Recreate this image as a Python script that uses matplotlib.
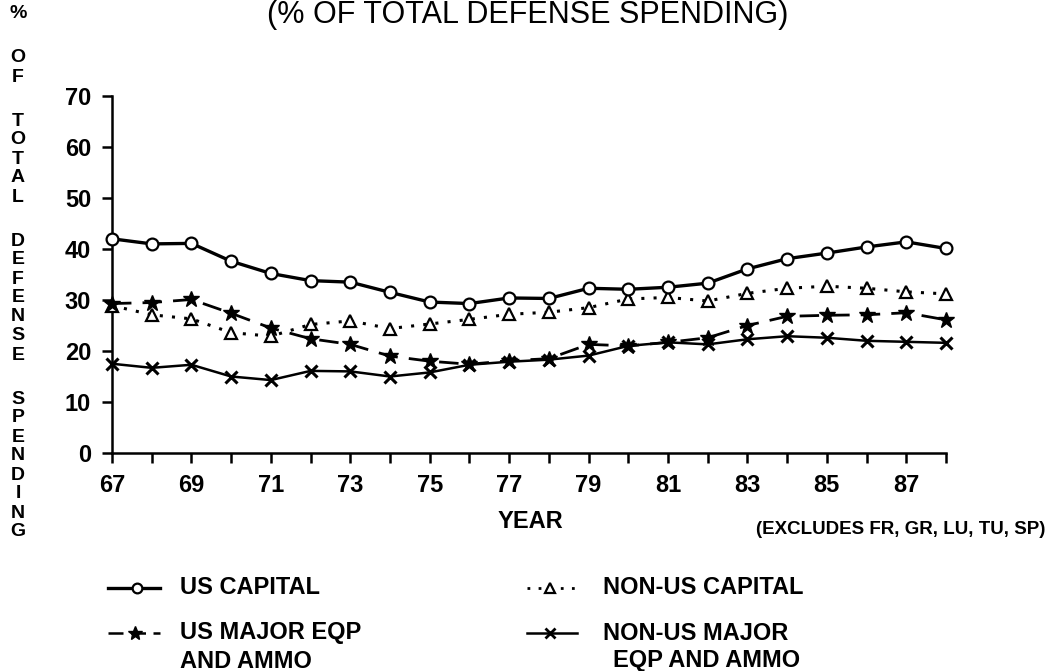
import matplotlib
matplotlib.use("Agg")
import matplotlib.pyplot as plt
from matplotlib.lines import Line2D

plt.rcParams['font.family'] = ['Liberation Sans', 'DejaVu Sans']
plt.rcParams['font.weight'] = 'bold'

# data (% of total defense spending)
years = list(range(67, 89))
us_capital = [42.0, 41.0, 41.1, 37.6, 35.2, 33.8, 33.5, 31.5, 29.6, 29.3, 30.4,
              30.3, 32.3, 32.1, 32.5, 33.3, 36.1, 38.1, 39.2, 40.4, 41.4, 40.1]
non_us_capital = [28.9, 27.1, 26.3, 23.6, 22.9, 25.2, 25.9, 24.4, 25.3, 26.2, 27.2,
                  27.6, 28.5, 30.2, 30.5, 29.8, 31.3, 32.3, 32.7, 32.3, 31.6, 31.2]
us_major = [29.3, 29.5, 30.1, 27.4, 24.5, 22.4, 21.3, 19.0, 18.0, 17.4, 18.1,
            18.5, 21.3, 21.0, 21.7, 22.6, 25.0, 26.8, 27.0, 27.1, 27.5, 26.1]
non_us_major = [17.5, 16.7, 17.3, 15.0, 14.3, 16.1, 16.0, 15.0, 15.8, 17.3, 17.9,
                18.3, 19.1, 21.0, 21.7, 21.3, 22.3, 22.9, 22.6, 22.0, 21.8, 21.6]
xtick_labels = [str(y) if y % 2 == 1 else '' for y in years]
yticks = [0, 10, 20, 30, 40, 50, 60, 70]

W, H = 1049, 671
fig = plt.figure(figsize=(W / 100, H / 100), dpi=100)
ax = fig.add_axes([112 / W, 1 - 453 / H, (946 - 112) / W, (453 - 96) / H])

ax.plot(years, us_capital, color='black', lw=2.4, marker='o', ms=8.5,
        mfc='white', mec='black', mew=1.6, clip_on=False, zorder=4)
ax.plot(years, non_us_capital, color='black', lw=2.2, ls=(0, (1, 3)), marker='^',
        ms=8.5, mfc='white', mec='black', mew=1.6, clip_on=False, zorder=3)
ax.plot(years, us_major, color='black', lw=2.0, ls=(0, (7, 4)), marker='*',
        ms=12, mfc='black', mec='black', clip_on=False, zorder=3)
ax.plot(years, non_us_major, color='black', lw=1.8, marker='x', ms=9, mew=2.2,
        clip_on=False, zorder=3)

ax.set_xlim(67, 88)
ax.set_ylim(0, 70)
ax.set_xticks(years)
ax.set_xticklabels(xtick_labels)
ax.set_yticks(yticks)
for s in ['top', 'right']:
    ax.spines[s].set_visible(False)
for s in ['left', 'bottom']:
    ax.spines[s].set_linewidth(1.8)
ax.tick_params(direction='out', length=7, width=1.8, labelsize=17, pad=8)

# title sits right at the top edge
fig.text(528 / W, 1 - 23 / H, '(% OF TOTAL DEFENSE SPENDING)', ha='center',
         va='baseline', fontsize=22, fontweight='normal')

# stacked vertical y label
words = ['%', 'OF', 'TOTAL', 'DEFENSE', 'SPENDING']
y_px = 14
for w in words:
    for ch in w:
        fig.text(18 / W, 1 - y_px / H, ch, ha='center', va='center', fontsize=14)
        y_px += 19
    y_px += 25

fig.text(530 / W, 1 - 521 / H, 'YEAR', ha='center', va='center', fontsize=17)
fig.text(1045 / W, 1 - 530 / H, '(EXCLUDES FR, GR, LU, TU, SP)', ha='right',
         va='center', fontsize=13.5)

# legend
def handle(x0, x1, y, **kw):
    yf = 1 - y / H
    fig.add_artist(Line2D([x0 / W, x1 / W], [yf, yf], color='black', **kw))

def marker(x, y, **kw):
    yf = 1 - y / H
    fig.add_artist(Line2D([x / W], [yf], color='black', ls='none', **kw))

handle(108, 160, 588, lw=2.4)
marker(137, 588, marker='o', ms=7, mfc='white', mec='black', mew=1.6)
fig.text(180 / W, 1 - 588 / H, 'US CAPITAL', va='center', fontsize=17)

handle(527, 577, 588, lw=2.0, ls=(0, (1, 3)))
marker(550, 588, marker='^', ms=7, mfc='white', mec='black', mew=1.6)
fig.text(603 / W, 1 - 588 / H, 'NON-US CAPITAL', va='center', fontsize=17)

handle(108, 160, 633, lw=1.8, ls=(0, (6, 3)))
marker(135, 633, marker='*', ms=10, mfc='black', mec='black')
fig.text(180 / W, 1 - 633 / H, 'US MAJOR EQP', va='center', fontsize=17)
fig.text(180 / W, 1 - 661 / H, 'AND AMMO', va='center', fontsize=17)

handle(527, 577, 633, lw=1.8)
marker(550, 633, marker='x', ms=7, mew=2)
fig.text(603 / W, 1 - 633 / H, 'NON-US MAJOR', va='center', fontsize=17)
fig.text(613 / W, 1 - 661 / H, 'EQP AND AMMO', va='center', fontsize=17)

fig.savefig('out.png', dpi=100, facecolor='white')
